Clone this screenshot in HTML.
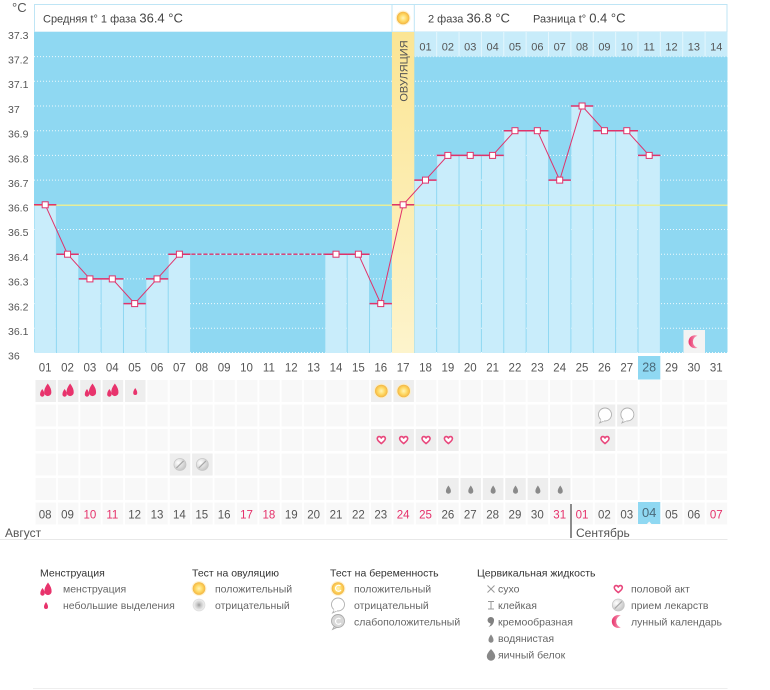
<!DOCTYPE html>
<html><head><meta charset="utf-8"><style>
html,body{margin:0;padding:0;background:#fff;}
svg{display:block;font-family:"Liberation Sans","DejaVu Sans",sans-serif;}
</style></head><body>
<svg width="770" height="690" viewBox="0 0 770 690" xmlns="http://www.w3.org/2000/svg">
<defs>
<radialGradient id="sunG" cx="50%" cy="50%" r="50%">
<stop offset="0" stop-color="#fff4b8"/><stop offset="0.5" stop-color="#ffdc6a"/><stop offset="0.85" stop-color="#f8c24c"/><stop offset="1" stop-color="#f0b040"/>
</radialGradient>
<radialGradient id="pillG" cx="35%" cy="35%" r="70%">
<stop offset="0" stop-color="#ffffff"/><stop offset="1" stop-color="#c4c4c4"/>
</radialGradient>
<radialGradient id="negG" cx="50%" cy="50%" r="50%">
<stop offset="0" stop-color="#9a9a9a"/><stop offset="0.35" stop-color="#c8c8c8"/><stop offset="0.8" stop-color="#ececec"/><stop offset="1" stop-color="#d8d8d8"/>
</radialGradient>
<linearGradient id="ovG" x1="0" y1="0" x2="0" y2="1">
<stop offset="0" stop-color="#fbe594"/><stop offset="1" stop-color="#fdf4cc"/>
</linearGradient>
<linearGradient id="moonG" x1="0" y1="0" x2="1" y2="0">
<stop offset="0" stop-color="#e8336c"/><stop offset="1" stop-color="#f7a3bb"/>
</linearGradient>
<pattern id="cells" x="34" y="380" width="22.37" height="24.5" patternUnits="userSpaceOnUse">
<rect x="1.5" y="0" width="20.5" height="22" fill="#f8f8f8"/>
</pattern>
<g id="mdrop" fill="#e8336c">
<path d="M2,-7.5 Q5.8,-2.5 5.6,1.5 A3.6,3.6 0 0 1 -1.6,1.5 Q-1.8,-2.5 2,-7.5Z"/>
<path d="M-3.5,-2 Q-1.2,1 -1.3,3.5 A2.2,2.2 0 0 1 -5.7,3.5 Q-5.8,1 -3.5,-2Z"/>
</g>
<g id="sdrop" fill="#e8336c"><path d="M0,-4 Q2.1,-1 2,1 A2,2 0 0 1 -2,1 Q-2.1,-1 0,-4Z"/></g>
<g id="sun"><circle r="7.5" fill="#fdeec0" opacity="0.7"/><circle r="6.3" fill="url(#sunG)"/></g>
<g id="heart"><path d="M0,3.5 C-1,2.5 -4.5,0.5 -4,-1.8 C-3.5,-4 -1,-4 0,-2 C1,-4 3.5,-4 4,-1.8 C4.5,0.5 1,2.5 0,3.5Z" fill="#fff" stroke="#e8477c" stroke-width="1.6" stroke-linejoin="round"/></g>
<g id="pill"><circle r="6" fill="url(#pillG)" stroke="#c6c6c6" stroke-width="0.8"/><line x1="-3.6" y1="3.6" x2="3.6" y2="-3.6" stroke="#a8a8a8" stroke-width="1.2"/></g>
<g id="bubble"><path d="M-3.5,5 L-5.5,8.5 L-0.5,6.3Z" fill="#fff" stroke="#b0b0b0" stroke-width="0.8"/><circle r="6.5" fill="#fff" stroke="#b0b0b0" stroke-width="0.9"/><path d="M-4.2,5.4 L-1,6" stroke="#fff" stroke-width="1.5"/></g>
<g id="gdrop" fill="#8a8a8a"><path d="M0,-4.5 Q2.6,-1 2.5,1.2 A2.5,2.5 0 0 1 -2.5,1.2 Q-2.6,-1 0,-4.5Z"/></g>
<g id="moon"><path d="M2.5,-6 A6.5,6.5 0 1 0 2.5,6 A6.2,6.2 0 0 1 2.5,-6Z" fill="url(#moonG)"/></g>
</defs>

<text x="12" y="12" font-size="13" fill="#555">°C</text>

<rect x="34.5" y="4.5" width="692.5" height="27.5" fill="#fff" stroke="#bfe5f5" stroke-width="1"/>
<line x1="392" y1="4" x2="392" y2="32" stroke="#bfe5f5"/>
<line x1="414.3" y1="4" x2="414.3" y2="32" stroke="#bfe5f5"/>
<text x="43" y="22.5" font-size="11" fill="#444">Средняя t° 1 фаза <tspan font-size="13">36.4 °C</tspan></text>
<use href="#sun" x="403.1" y="18"/>
<text x="428" y="22.5" font-size="11" fill="#444">2 фаза <tspan font-size="13">36.8 °C</tspan></text>
<text x="533" y="22.5" font-size="11" fill="#444">Разница t° <tspan font-size="13">0.4 °C</tspan></text>

<rect x="34" y="32" width="693.5" height="321" fill="#8fd8f2"/>

<g stroke="#ffffff" stroke-width="1" stroke-dasharray="1 2" opacity="0.85">
<line x1="34" x2="727.5" y1="56.6" y2="56.6"/>
<line x1="34" x2="727.5" y1="81.3" y2="81.3"/>
<line x1="34" x2="727.5" y1="106" y2="106"/>
<line x1="34" x2="727.5" y1="130.7" y2="130.7"/>
<line x1="34" x2="727.5" y1="155.4" y2="155.4"/>
<line x1="34" x2="727.5" y1="180.1" y2="180.1"/>
<line x1="34" x2="727.5" y1="229.5" y2="229.5"/>
<line x1="34" x2="727.5" y1="254.2" y2="254.2"/>
<line x1="34" x2="727.5" y1="278.9" y2="278.9"/>
<line x1="34" x2="727.5" y1="303.6" y2="303.6"/>
<line x1="34" x2="727.5" y1="328.3" y2="328.3"/>
<line x1="34" x2="727.5" y1="352.5" y2="352.5"/>
</g>

<rect x="414.3" y="32" width="313.2" height="24.6" fill="#c8ecfa"/>
<g stroke="#e4f6fd" stroke-width="1">
<line x1="436.66" x2="436.66" y1="32" y2="56.6"/><line x1="459.03" x2="459.03" y1="32" y2="56.6"/>
<line x1="481.4" x2="481.4" y1="32" y2="56.6"/><line x1="503.77" x2="503.77" y1="32" y2="56.6"/>
<line x1="526.14" x2="526.14" y1="32" y2="56.6"/><line x1="548.51" x2="548.51" y1="32" y2="56.6"/>
<line x1="570.88" x2="570.88" y1="32" y2="56.6"/><line x1="593.25" x2="593.25" y1="32" y2="56.6"/>
<line x1="615.62" x2="615.62" y1="32" y2="56.6"/><line x1="637.99" x2="637.99" y1="32" y2="56.6"/>
<line x1="660.36" x2="660.36" y1="32" y2="56.6"/><line x1="682.73" x2="682.73" y1="32" y2="56.6"/>
<line x1="705.1" x2="705.1" y1="32" y2="56.6"/>
</g>
<g font-size="11" fill="#555" text-anchor="middle">
<text x="425.48" y="50.5">01</text><text x="447.85" y="50.5">02</text><text x="470.22" y="50.5">03</text>
<text x="492.59" y="50.5">04</text><text x="514.96" y="50.5">05</text><text x="537.33" y="50.5">06</text>
<text x="559.7" y="50.5">07</text><text x="582.07" y="50.5">08</text><text x="604.44" y="50.5">09</text>
<text x="626.81" y="50.5">10</text><text x="649.18" y="50.5">11</text><text x="671.55" y="50.5">12</text>
<text x="693.92" y="50.5">13</text><text x="716.29" y="50.5">14</text>
</g>

<g fill="#c9edfb">
<rect x="34.5" y="204.8" width="21.37" height="148.2"/>
<rect x="56.87" y="254.2" width="21.37" height="98.8"/>
<rect x="79.24" y="278.9" width="21.37" height="74.1"/>
<rect x="101.61" y="278.9" width="21.37" height="74.1"/>
<rect x="123.98" y="303.6" width="21.37" height="49.4"/>
<rect x="146.35" y="278.9" width="21.37" height="74.1"/>
<rect x="168.72" y="254.2" width="21.37" height="98.8"/>
<rect x="325.31" y="254.2" width="21.37" height="98.8"/>
<rect x="347.68" y="254.2" width="21.37" height="98.8"/>
<rect x="370.05" y="303.6" width="21.37" height="49.4"/>
<rect x="414.79" y="180.1" width="21.37" height="172.9"/>
<rect x="437.16" y="155.4" width="21.37" height="197.6"/>
<rect x="459.53" y="155.4" width="21.37" height="197.6"/>
<rect x="481.9" y="155.4" width="21.37" height="197.6"/>
<rect x="504.27" y="130.7" width="21.37" height="222.3"/>
<rect x="526.64" y="130.7" width="21.37" height="222.3"/>
<rect x="549.01" y="180.1" width="21.37" height="172.9"/>
<rect x="571.38" y="106" width="21.37" height="247"/>
<rect x="593.75" y="130.7" width="21.37" height="222.3"/>
<rect x="616.12" y="130.7" width="21.37" height="222.3"/>
<rect x="638.49" y="155.4" width="21.37" height="197.6"/>
</g>

<rect x="391.92" y="32" width="22.37" height="321" fill="url(#ovG)"/>
<text transform="translate(407.3,71) rotate(-90)" font-size="11" fill="#555" text-anchor="middle">ОВУЛЯЦИЯ</text>

<line x1="34" x2="727.5" y1="205.3" y2="205.3" stroke="#e6ee9a" stroke-width="1.5"/>

<rect x="683.5" y="330" width="21.5" height="23" fill="#f3f3f3"/>
<use href="#moon" x="695" y="341.7"/>

<g stroke="#e0336b" stroke-width="1.5">
<line x1="34" x2="56.37" y1="204.8" y2="204.8"/>
<line x1="56.37" x2="78.74" y1="254.2" y2="254.2"/>
<line x1="78.74" x2="101.11" y1="278.9" y2="278.9"/>
<line x1="101.11" x2="123.48" y1="278.9" y2="278.9"/>
<line x1="123.48" x2="145.85" y1="303.6" y2="303.6"/>
<line x1="145.85" x2="168.22" y1="278.9" y2="278.9"/>
<line x1="168.22" x2="190.59" y1="254.2" y2="254.2"/>
<line x1="324.81" x2="347.18" y1="254.2" y2="254.2"/>
<line x1="347.18" x2="369.55" y1="254.2" y2="254.2"/>
<line x1="369.55" x2="391.92" y1="303.6" y2="303.6"/>
<line x1="391.92" x2="414.29" y1="204.8" y2="204.8"/>
<line x1="414.29" x2="436.66" y1="180.1" y2="180.1"/>
<line x1="436.66" x2="459.03" y1="155.4" y2="155.4"/>
<line x1="459.03" x2="481.4" y1="155.4" y2="155.4"/>
<line x1="481.4" x2="503.77" y1="155.4" y2="155.4"/>
<line x1="503.77" x2="526.14" y1="130.7" y2="130.7"/>
<line x1="526.14" x2="548.51" y1="130.7" y2="130.7"/>
<line x1="548.51" x2="570.88" y1="180.1" y2="180.1"/>
<line x1="570.88" x2="593.25" y1="106" y2="106"/>
<line x1="593.25" x2="615.62" y1="130.7" y2="130.7"/>
<line x1="615.62" x2="637.99" y1="130.7" y2="130.7"/>
<line x1="637.99" x2="660.36" y1="155.4" y2="155.4"/>
</g>

<polyline fill="none" stroke="#e0336b" stroke-width="1" points="45.19,204.8 67.56,254.2 89.93,278.9 112.3,278.9 134.67,303.6 157.04,278.9 179.41,254.2"/>
<line x1="179.41" y1="254.2" x2="336" y2="254.2" stroke="#e0336b" stroke-width="1.3" stroke-dasharray="4 2"/>
<polyline fill="none" stroke="#e0336b" stroke-width="1" points="336,254.2 358.37,254.2 380.74,303.6 403.11,204.8 425.48,180.1 447.85,155.4 470.22,155.4 492.59,155.4 514.96,130.7 537.33,130.7 559.7,180.1 582.07,106 604.44,130.7 626.81,130.7 649.18,155.4"/>

<g fill="#fff" stroke="#e0336b" stroke-width="1">
<rect x="42.19" y="201.8" width="6" height="6"/>
<rect x="64.56" y="251.2" width="6" height="6"/>
<rect x="86.93" y="275.9" width="6" height="6"/>
<rect x="109.3" y="275.9" width="6" height="6"/>
<rect x="131.67" y="300.6" width="6" height="6"/>
<rect x="154.04" y="275.9" width="6" height="6"/>
<rect x="176.41" y="251.2" width="6" height="6"/>
<rect x="333" y="251.2" width="6" height="6"/>
<rect x="355.37" y="251.2" width="6" height="6"/>
<rect x="377.74" y="300.6" width="6" height="6"/>
<rect x="400.11" y="201.8" width="6" height="6"/>
<rect x="422.48" y="177.1" width="6" height="6"/>
<rect x="444.85" y="152.4" width="6" height="6"/>
<rect x="467.22" y="152.4" width="6" height="6"/>
<rect x="489.59" y="152.4" width="6" height="6"/>
<rect x="511.96" y="127.7" width="6" height="6"/>
<rect x="534.33" y="127.7" width="6" height="6"/>
<rect x="556.7" y="177.1" width="6" height="6"/>
<rect x="579.07" y="103" width="6" height="6"/>
<rect x="601.44" y="127.7" width="6" height="6"/>
<rect x="623.81" y="127.7" width="6" height="6"/>
<rect x="646.18" y="152.4" width="6" height="6"/>
</g>

<g font-size="10.5" fill="#555">
<text x="8" y="39">37.3</text><text x="8" y="63.5">37.2</text><text x="8" y="88.2">37.1</text>
<text x="8" y="112.9">37</text><text x="8" y="137.6">36.9</text><text x="8" y="162.3">36.8</text>
<text x="8" y="187">36.7</text><text x="8" y="211.5">36.6</text><text x="8" y="236.2">36.5</text>
<text x="8" y="260.9">36.4</text><text x="8" y="285.6">36.3</text><text x="8" y="310.3">36.2</text>
<text x="8" y="334.8">36.1</text><text x="8" y="359.5">36</text>
</g>

<rect x="638" y="356" width="22.3" height="23.5" fill="#8fd8f2"/>
<g font-size="11.5" fill="#555" text-anchor="middle">
<text x="45.19" y="371.5">01</text><text x="67.56" y="371.5">02</text><text x="89.93" y="371.5">03</text>
<text x="112.3" y="371.5">04</text><text x="134.67" y="371.5">05</text><text x="157.04" y="371.5">06</text>
<text x="179.41" y="371.5">07</text><text x="201.78" y="371.5">08</text><text x="224.15" y="371.5">09</text>
<text x="246.52" y="371.5">10</text><text x="268.89" y="371.5">11</text><text x="291.26" y="371.5">12</text>
<text x="313.63" y="371.5">13</text><text x="336" y="371.5">14</text><text x="358.37" y="371.5">15</text>
<text x="380.74" y="371.5">16</text><text x="403.11" y="371.5">17</text><text x="425.48" y="371.5">18</text>
<text x="447.85" y="371.5">19</text><text x="470.22" y="371.5">20</text><text x="492.59" y="371.5">21</text>
<text x="514.96" y="371.5">22</text><text x="537.33" y="371.5">23</text><text x="559.7" y="371.5">24</text>
<text x="582.07" y="371.5">25</text><text x="604.44" y="371.5">26</text><text x="626.81" y="371.5">27</text>
<text x="649.18" y="371.5" font-size="12.5" fill="#4a6a7a">28</text><text x="671.55" y="371.5">29</text><text x="693.92" y="371.5">30</text>
<text x="716.29" y="371.5">31</text>
</g>

<rect x="34" y="380" width="693.5" height="146" fill="url(#cells)"/>
<g fill="#eeeeee">
<rect x="35.5" y="380" width="20.5" height="22"/><rect x="57.87" y="380" width="20.5" height="22"/>
<rect x="80.24" y="380" width="20.5" height="22"/><rect x="102.61" y="380" width="20.5" height="22"/>
<rect x="124.98" y="380" width="20.5" height="22"/><rect x="371.05" y="380" width="20.5" height="22"/>
<rect x="393.42" y="380" width="20.5" height="22"/>
<rect x="594.75" y="404.5" width="20.5" height="22"/><rect x="617.12" y="404.5" width="20.5" height="22"/>
<rect x="371.05" y="429" width="20.5" height="22"/><rect x="393.42" y="429" width="20.5" height="22"/>
<rect x="415.79" y="429" width="20.5" height="22"/><rect x="438.16" y="429" width="20.5" height="22"/>
<rect x="594.75" y="429" width="20.5" height="22"/>
<rect x="169.72" y="453.5" width="20.5" height="22"/><rect x="192.09" y="453.5" width="20.5" height="22"/>
<rect x="438.16" y="478" width="20.5" height="22"/><rect x="460.53" y="478" width="20.5" height="22"/>
<rect x="482.9" y="478" width="20.5" height="22"/><rect x="505.27" y="478" width="20.5" height="22"/>
<rect x="527.64" y="478" width="20.5" height="22"/><rect x="550.01" y="478" width="20.5" height="22"/>
</g>
<use href="#mdrop" x="45.75" y="391"/><use href="#mdrop" x="68.12" y="391"/>
<use href="#mdrop" x="90.49" y="391"/><use href="#mdrop" x="112.86" y="391"/>
<use href="#sdrop" x="135.23" y="392"/>
<use href="#sun" x="381.3" y="391"/><use href="#sun" x="403.67" y="391"/>
<use href="#bubble" x="605" y="414.5"/><use href="#bubble" x="627.37" y="414.5"/>
<use href="#heart" x="381.3" y="440"/><use href="#heart" x="403.67" y="440"/>
<use href="#heart" x="426.04" y="440"/><use href="#heart" x="448.41" y="440"/>
<use href="#heart" x="605" y="440"/>
<use href="#pill" x="179.97" y="464.5"/><use href="#pill" x="202.34" y="464.5"/>
<use href="#gdrop" x="448.41" y="490"/><use href="#gdrop" x="470.78" y="490"/>
<use href="#gdrop" x="493.15" y="490"/><use href="#gdrop" x="515.52" y="490"/>
<use href="#gdrop" x="537.89" y="490"/><use href="#gdrop" x="560.26" y="490"/>

<path d="M638,502 L660.3,502 L660.3,524 L651.5,524 L649.2,521.5 L646.9,524 L638,524Z" fill="#8fd8f2"/>
<g font-size="11.5" fill="#555" text-anchor="middle">
<text x="45.19" y="518.5">08</text><text x="67.56" y="518.5">09</text>
<text x="89.93" y="518.5" fill="#e5306a">10</text><text x="112.3" y="518.5" fill="#e5306a">11</text>
<text x="134.67" y="518.5">12</text><text x="157.04" y="518.5">13</text><text x="179.41" y="518.5">14</text>
<text x="201.78" y="518.5">15</text><text x="224.15" y="518.5">16</text>
<text x="246.52" y="518.5" fill="#e5306a">17</text><text x="268.89" y="518.5" fill="#e5306a">18</text>
<text x="291.26" y="518.5">19</text><text x="313.63" y="518.5">20</text><text x="336" y="518.5">21</text>
<text x="358.37" y="518.5">22</text><text x="380.74" y="518.5">23</text>
<text x="403.11" y="518.5" fill="#e5306a">24</text><text x="425.48" y="518.5" fill="#e5306a">25</text>
<text x="447.85" y="518.5">26</text><text x="470.22" y="518.5">27</text><text x="492.59" y="518.5">28</text>
<text x="514.96" y="518.5">29</text><text x="537.33" y="518.5">30</text>
<text x="559.7" y="518.5" fill="#e5306a">31</text><text x="582.07" y="518.5" fill="#e5306a">01</text>
<text x="604.44" y="518.5">02</text><text x="626.81" y="518.5">03</text>
<text x="649.18" y="517" font-size="13" fill="#4a6a7a">04</text>
<text x="671.55" y="518.5">05</text><text x="693.92" y="518.5">06</text>
<text x="716.29" y="518.5" fill="#e5306a">07</text>
</g>
<line x1="571" y1="504" x2="571" y2="538" stroke="#666" stroke-width="1.5"/>
<line x1="0" y1="539.5" x2="727.5" y2="539.5" stroke="#e8e8e8" stroke-width="1"/>
<text x="5" y="537" font-size="12" fill="#555">Август</text>
<text x="576" y="537" font-size="12" fill="#555">Сентябрь</text>

<g font-size="10.5" fill="#333">
<text x="40" y="576.5">Менструация</text>
<text x="192" y="576.5">Тест на овуляцию</text>
<text x="330" y="576.5">Тест на беременность</text>
<text x="477" y="576.5">Цервикальная жидкость</text>
</g>
<g font-size="10.5" fill="#666">
<text x="63" y="592.5">менструация</text>
<text x="63" y="609">небольшие выделения</text>
<text x="215" y="592.5">положительный</text>
<text x="215" y="609">отрицательный</text>
<text x="354" y="592.5">положительный</text>
<text x="354" y="609">отрицательный</text>
<text x="354" y="625.5">слабоположительный</text>
<text x="498" y="592.5">сухо</text>
<text x="498" y="609">клейкая</text>
<text x="498" y="625.5">кремообразная</text>
<text x="498" y="642">водянистая</text>
<text x="498" y="658.5">яичный белок</text>
<text x="631" y="592.5">половой акт</text>
<text x="631" y="609">прием лекарств</text>
<text x="631" y="625.5">лунный календарь</text>
</g>
<use href="#mdrop" x="46" y="590"/>
<use href="#sdrop" x="46" y="606"/>
<use href="#sun" x="199" y="588.5"/>
<circle cx="199" cy="605" r="6.3" fill="url(#negG)"/>
<use href="#sun" x="338" y="588.5"/>
<path d="M340.5,586 A3,3 0 1 0 341,590" fill="none" stroke="#fff" stroke-width="1.2"/>
<use href="#bubble" x="338" y="604.5"/>
<g transform="translate(338,621)"><path d="M-3.5,5 L-5.5,8.5 L-0.5,6.3Z" fill="#ddd" stroke="#aaa" stroke-width="0.8"/><circle r="6.5" fill="#d8d8d8" stroke="#aaa" stroke-width="0.9"/><path d="M2.5,-2 A3,3 0 1 0 3,2" fill="none" stroke="#fff" stroke-width="1.2"/></g>
<g stroke="#999" stroke-width="1" fill="none">
<line x1="487.5" y1="585.5" x2="494.5" y2="592.5"/><line x1="494.5" y1="585.5" x2="487.5" y2="592.5"/>
<line x1="488" y1="601.5" x2="494" y2="601.5"/><line x1="491" y1="601.5" x2="491" y2="609"/><line x1="488" y1="609" x2="494" y2="609"/>
</g>
<path d="M491,617 A3.2,3.2 0 0 1 494,621 Q493.5,625.5 488.5,627 Q491,624.5 490.5,623.4 A3.2,3.2 0 0 1 491,617Z" fill="#808080"/>
<use href="#gdrop" x="491" y="639"/>
<path d="M491,649 Q495.5,654 495.2,656.5 A4.2,4.2 0 0 1 486.8,656.5 Q486.5,654 491,649Z" fill="#888"/>
<use href="#heart" x="618.3" y="589"/>
<use href="#pill" x="618.3" y="605"/>
<use href="#moon" x="618.3" y="621.5"/>

<line x1="33" y1="688.5" x2="727.5" y2="688.5" stroke="#eeeeee" stroke-width="1"/>
</svg>
</body></html>
